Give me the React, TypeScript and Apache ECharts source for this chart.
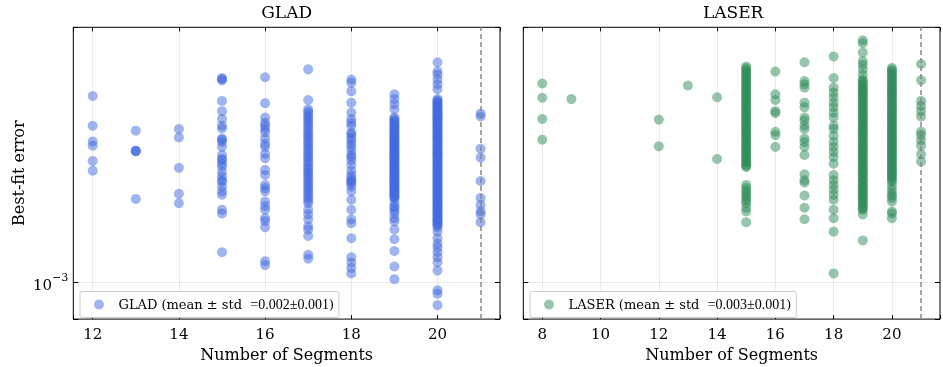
import React, { useEffect, useRef } from 'react';
import * as echarts from 'echarts';

// Values are best-fit errors in units of 1e-3
const gladSegments = [12, 13, 14, 15, 16, 17, 18, 19, 20, 21];
const glad12 = [3.45, 2.83, 2.55, 2.48, 2.24, 2.10];
const glad13 = [2.74, 2.39, 2.39, 2.40, 1.74];
const glad14 = [2.77, 2.62, 2.14, 1.80, 1.69];
const glad15 = [3.89, 3.86, 3.83, 3.34, 3.12, 2.96, 2.83, 2.78, 2.60, 2.58, 2.54, 2.46, 2.33, 2.27, 2.25, 2.20, 2.16, 2.08, 2.02, 1.97, 1.95, 1.89, 1.83, 1.79, 1.62, 1.58, 1.22];
const glad16 = [3.91, 3.29, 2.99, 2.89, 2.83, 2.77, 2.71, 2.60, 2.51, 2.46, 2.35, 2.28, 2.11, 2.04, 1.91, 1.87, 1.83, 1.71, 1.66, 1.62, 1.53, 1.50, 1.44, 1.15, 1.12];
const glad17 = [4.12, 3.36, 3.16, 3.11, 3.06, 3.01, 2.96, 2.92, 2.87, 2.82, 2.77, 2.72, 2.68, 2.64, 2.60, 2.55, 2.51, 2.47, 2.43, 2.39, 2.35, 2.31, 2.28, 2.24, 2.20, 2.16, 2.13, 2.09, 2.06, 2.03, 2.00, 1.96, 1.93, 1.90, 1.87, 1.84, 1.81, 1.78, 1.75, 1.72, 1.69, 1.62, 1.57, 1.52, 1.45, 1.42, 1.36, 1.20, 1.17];
const glad18 = [3.85, 3.77, 3.56, 3.30, 3.09, 2.96, 2.89, 2.83, 2.70, 2.68, 2.62, 2.57, 2.51, 2.46, 2.40, 2.33, 2.30, 2.25, 2.18, 2.10, 2.04, 2.00, 1.97, 1.95, 1.93, 1.89, 1.83, 1.73, 1.62, 1.52, 1.48, 1.34, 1.18, 1.14, 1.10, 1.06];
const glad19 = [3.49, 3.38, 3.27, 3.16, 2.99, 2.96, 2.93, 2.90, 2.87, 2.84, 2.82, 2.79, 2.77, 2.74, 2.72, 2.69, 2.67, 2.64, 2.62, 2.60, 2.57, 2.55, 2.53, 2.51, 2.49, 2.47, 2.45, 2.43, 2.41, 2.39, 2.37, 2.35, 2.33, 2.31, 2.29, 2.28, 2.26, 2.24, 2.22, 2.20, 2.19, 2.17, 2.15, 2.13, 2.12, 2.10, 2.08, 2.07, 2.05, 2.03, 2.02, 2.00, 1.98, 1.97, 1.95, 1.94, 1.92, 1.91, 1.89, 1.88, 1.86, 1.85, 1.83, 1.82, 1.80, 1.79, 1.77, 1.76, 1.75, 1.70, 1.66, 1.64, 1.61, 1.58, 1.53, 1.50, 1.42, 1.33, 1.23, 1.11, 1.02];
const glad20 = [4.32, 4.07, 3.98, 3.85, 3.73, 3.61, 3.38, 3.35, 3.32, 3.30, 3.27, 3.24, 3.22, 3.19, 3.16, 3.14, 3.11, 3.08, 3.06, 3.03, 3.01, 2.98, 2.96, 2.94, 2.92, 2.89, 2.87, 2.84, 2.82, 2.80, 2.77, 2.75, 2.73, 2.70, 2.68, 2.66, 2.64, 2.62, 2.60, 2.58, 2.56, 2.53, 2.51, 2.49, 2.47, 2.45, 2.43, 2.41, 2.39, 2.37, 2.35, 2.34, 2.32, 2.30, 2.28, 2.26, 2.24, 2.22, 2.20, 2.18, 2.17, 2.15, 2.13, 2.11, 2.10, 2.08, 2.06, 2.04, 2.03, 2.01, 2.00, 1.98, 1.96, 1.95, 1.93, 1.91, 1.90, 1.88, 1.87, 1.85, 1.84, 1.82, 1.81, 1.79, 1.78, 1.76, 1.75, 1.73, 1.72, 1.70, 1.69, 1.67, 1.66, 1.64, 1.63, 1.62, 1.60, 1.59, 1.58, 1.56, 1.55, 1.53, 1.52, 1.51, 1.50, 1.48, 1.47, 1.46, 1.44, 1.40, 1.34, 1.29, 1.26, 1.22, 1.18, 1.14, 1.08, 0.947, 0.926, 0.858];
const glad21 = [3.07, 3.01, 2.43, 2.29, 1.96, 1.75, 1.67, 1.60, 1.57, 1.49];
const gladColumns = [glad12, glad13, glad14, glad15, glad16, glad17, glad18, glad19, glad20, glad21];

const laserSegments = [8, 9, 12, 13, 14, 15, 16, 17, 18, 19, 20, 21];
const laser8 = [3.75, 3.41, 2.96, 2.58];
const laser9 = [3.38];
const laser12 = [2.95, 2.47];
const laser13 = [3.70];
const laser14 = [3.42, 2.27];
const laser15 = [4.20, 4.15, 4.10, 4.05, 4.00, 3.95, 3.90, 3.86, 3.81, 3.77, 3.72, 3.68, 3.63, 3.59, 3.55, 3.51, 3.47, 3.43, 3.39, 3.35, 3.31, 3.27, 3.23, 3.20, 3.16, 3.12, 3.09, 3.05, 3.02, 2.98, 2.95, 2.91, 2.88, 2.85, 2.81, 2.78, 2.75, 2.72, 2.69, 2.66, 2.63, 2.60, 2.57, 2.54, 2.51, 2.48, 2.45, 2.43, 2.40, 2.37, 2.35, 2.32, 2.29, 2.27, 2.24, 2.22, 2.19, 2.17, 2.15, 1.91, 1.87, 1.84, 1.81, 1.78, 1.75, 1.72, 1.69, 1.64, 1.60, 1.49];
const laser16 = [4.06, 3.49, 3.36, 3.12, 3.08, 2.72, 2.66, 2.46];
const laser17 = [4.32, 3.81, 3.73, 3.65, 3.30, 3.20, 2.99, 2.93, 2.83, 2.77, 2.60, 2.54, 2.46, 2.33, 2.05, 1.97, 1.94, 1.78, 1.64, 1.52];
const laser18 = [4.49, 3.89, 3.65, 3.53, 3.42, 3.30, 3.20, 3.09, 2.99, 2.83, 2.77, 2.65, 2.54, 2.46, 2.38, 2.30, 2.20, 2.04, 1.97, 1.91, 1.85, 1.79, 1.73, 1.62, 1.53, 1.40, 1.06];
const laser19 = [5.00, 4.90, 4.61, 4.35, 4.25, 4.12, 3.98, 3.85, 3.81, 3.76, 3.72, 3.67, 3.63, 3.59, 3.55, 3.51, 3.47, 3.43, 3.39, 3.35, 3.31, 3.27, 3.23, 3.20, 3.16, 3.12, 3.09, 3.05, 3.02, 2.98, 2.95, 2.91, 2.88, 2.85, 2.81, 2.78, 2.75, 2.72, 2.69, 2.66, 2.63, 2.60, 2.57, 2.54, 2.51, 2.48, 2.45, 2.43, 2.40, 2.37, 2.35, 2.32, 2.29, 2.27, 2.24, 2.22, 2.19, 2.17, 2.14, 2.12, 2.10, 2.07, 2.05, 2.03, 2.00, 1.98, 1.96, 1.94, 1.91, 1.89, 1.87, 1.85, 1.83, 1.81, 1.79, 1.77, 1.75, 1.73, 1.71, 1.69, 1.67, 1.65, 1.63, 1.62, 1.57, 1.32];
const laser20 = [4.16, 4.11, 4.06, 4.01, 3.96, 3.92, 3.87, 3.83, 3.78, 3.74, 3.69, 3.65, 3.61, 3.57, 3.53, 3.49, 3.45, 3.41, 3.37, 3.33, 3.29, 3.25, 3.21, 3.17, 3.14, 3.10, 3.07, 3.03, 3.00, 2.96, 2.93, 2.89, 2.86, 2.83, 2.80, 2.76, 2.73, 2.70, 2.67, 2.64, 2.61, 2.58, 2.55, 2.52, 2.50, 2.47, 2.44, 2.41, 2.39, 2.36, 2.33, 2.31, 2.28, 2.26, 2.23, 2.21, 2.18, 2.16, 2.13, 2.11, 2.09, 2.06, 2.04, 2.02, 2.00, 1.97, 1.95, 1.90, 1.85, 1.81, 1.78, 1.75, 1.71, 1.60, 1.58, 1.53];
const laser21 = [4.27, 3.83, 3.34, 3.23, 3.12, 3.01, 2.72, 2.66, 2.57, 2.48, 2.34, 2.23];
const laserColumns = [laser8, laser9, laser12, laser13, laser14, laser15, laser16, laser17, laser18, laser19, laser20, laser21];

const referenceSegment = 21;
const panelTitles = ['GLAD', 'LASER'];
const legendStats = ['0.002±0.001', '0.003±0.001'];

const FONT = 'DejaVu Serif';
const COLORS = ['rgba(65,105,225,0.5)', 'rgba(46,139,87,0.5)'];
const Y_MIN = 0.782e-3;
const Y_MAX = 5.45e-3;

function toPoints(xs: number[], cols: number[][]) {
  return xs.flatMap((x, i) => cols[i].map((v) => [x, v * 1e-3]));
}

export default function App() {
  const ref = useRef<HTMLDivElement>(null);
  useEffect(() => {
    const chart = echarts.init(ref.current!, null, { renderer: 'svg' });
    const grids = [
      { left: 73.3, top: 27.3, width: 426.7, height: 295 },
      { left: 523.3, top: 27.3, width: 426.7, height: 295 },
    ];
    const xRanges = [
      [11.55, 21.45, 5],
      [7.35, 21.65, 7],
    ];
    const tickStyle = { inside: true, length: 4, lineStyle: { color: '#000', width: 1 } };
    const splitStyle = {
      show: true, showMinLine: false, showMaxLine: false,
      lineStyle: { type: 'dotted', color: '#d8d8d8', width: 1 },
    };
    const xAxes: any[] = [];
    const yAxes: any[] = [];
    [0, 1].forEach((g) => {
      const [min, max, sn] = xRanges[g];
      xAxes.push({
        type: 'value', gridIndex: g, min, max, splitNumber: sn, position: 'bottom',
        axisLine: { show: false }, axisTick: tickStyle,
        axisLabel: {
          margin: 7, fontFamily: FONT, fontSize: 15, color: '#000',
          formatter: (v: number) => (Math.abs(v - Math.round(v)) < 1e-6 ? String(Math.round(v)) : ''),
        },
        splitLine: splitStyle,
        name: 'Number of Segments', nameLocation: 'middle', nameGap: 25,
        nameTextStyle: { fontFamily: FONT, fontSize: 16, color: '#000' },
      });
      xAxes.push({
        type: 'value', gridIndex: g, min, max, splitNumber: sn, position: 'top',
        axisLine: { show: false }, axisTick: tickStyle, axisLabel: { show: false }, splitLine: { show: false },
      });
      yAxes.push({
        type: 'log', logBase: 10, gridIndex: g, min: Y_MIN, max: Y_MAX, position: 'left',
        axisLine: { show: false }, axisTick: { ...tickStyle, length: 5 },
        axisLabel: {
          show: g === 0, margin: 5, fontFamily: FONT, color: '#000',
          formatter: (v: number) => (Math.abs(v - 1e-3) < 1e-9 ? '{b|10}{s|−3}' : ''),
          rich: {
            b: { fontFamily: FONT, fontSize: 15, lineHeight: 20, verticalAlign: 'bottom' },
            s: { fontFamily: FONT, fontSize: 11, lineHeight: 20, verticalAlign: 'top', padding: [0, 0, 8, 0] },
          },
        },
        splitLine: splitStyle,
        name: g === 0 ? 'Best-fit error' : '', nameLocation: 'middle', nameGap: 47,
        nameTextStyle: { fontFamily: FONT, fontSize: 16, color: '#000' },
      });
      yAxes.push({
        type: 'log', logBase: 10, gridIndex: g, min: Y_MIN, max: Y_MAX, position: 'right',
        axisLine: { show: false }, axisTick: { ...tickStyle, length: 5 }, axisLabel: { show: false }, splitLine: { show: false },
      });
    });

    const seriesData = [toPoints(gladSegments, gladColumns), toPoints(laserSegments, laserColumns)];

    chart.setOption({
      animation: false,
      textStyle: { fontFamily: FONT },
      title: panelTitles.map((t, i) => ({
        text: t, left: grids[i].left + grids[i].width / 2 - (i === 1 ? 3.5 : 0), top: 3, padding: 0, textAlign: 'center',
        textStyle: { fontFamily: FONT, fontSize: 17, fontWeight: 'normal', color: '#000' },
      })),
      grid: grids.map((g) => ({ ...g, show: true, borderColor: '#000', borderWidth: 1, backgroundColor: 'transparent' })),
      xAxis: xAxes,
      yAxis: yAxes,
      legend: panelTitles.map((t, i) => ({
        data: [t], left: i === 0 ? 80 : 530, top: 291.5, orient: 'horizontal',
        padding: [6, 5, 6, 14], borderColor: '#cccccc', borderWidth: 1, borderRadius: 2, backgroundColor: '#fff',
        icon: 'circle', itemWidth: 29, itemHeight: 10,
        formatter: () => `{a|${t} (mean ± std  }{b|=${legendStats[i]}}{a|)}`,
        textStyle: {
          rich: {
            a: { fontFamily: FONT, fontSize: 13, color: '#000' },
            b: { fontFamily: 'Liberation Serif', fontSize: 14, color: '#000' },
          },
        },
      })),
      series: panelTitles.map((t, i) => ({
        type: 'scatter', name: t, xAxisIndex: i * 2, yAxisIndex: i * 2,
        data: seriesData[i], symbolSize: 10,
        itemStyle: { color: COLORS[i], opacity: 1 },
        markLine: {
          silent: true, symbol: ['none', 'none'], label: { show: false },
          lineStyle: { type: [5, 3], color: '#888', width: 1.5 },
          data: [{ xAxis: referenceSegment }],
        },
      })),
    });
    return () => chart.dispose();
  }, []);
  return <div ref={ref} style={{ position: 'fixed', left: 0, top: 0, width: 943, height: 367 }} />;
}
